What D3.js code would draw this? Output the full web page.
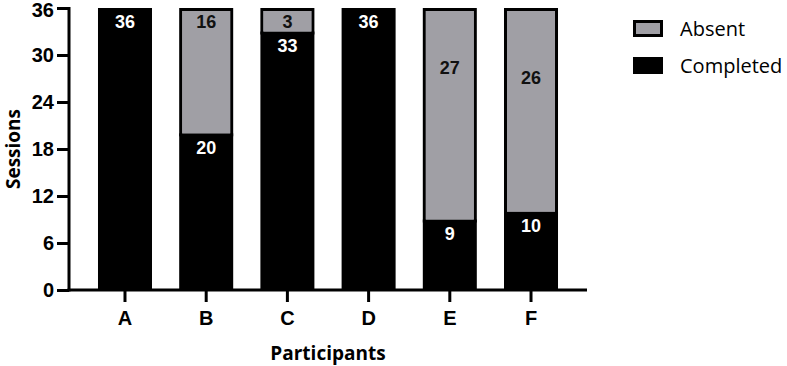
<!DOCTYPE html>
<html><head><meta charset="utf-8">
<script src="https://cdn.jsdelivr.net/npm/d3@7"></script>
<style>body{margin:0;background:#fff}svg{display:block}</style>
</head><body>
<svg id="c" width="787" height="366"></svg>
<script>
const participants = ["A","B","C","D","E","F"];
const completed = [36,20,33,36,9,10];
const absent = [0,16,3,0,27,26];
const yTicks = [0,6,12,18,24,30,36];
const seriesNames = ["Absent","Completed"];

const svg = d3.select("#c");
const x0 = 69, x1 = 587, yTop = 8, yBot = 290;
const x = d3.scaleBand().domain(participants).range([x0, x1]).paddingInner(0.335).paddingOuter(0.357);
const y = d3.scaleLinear().domain([0,36]).range([yBot, yTop]);
const gray = "#a09fa5";
const numFont = "Liberation Sans, Arial, sans-serif";
const textFont = "'Open Sans', sans-serif";

// bars
const g = svg.append("g");
participants.forEach((p,i)=>{
  const bx = x(p), bw = x.bandwidth();
  const c = completed[i], a = absent[i];
  g.append("rect").attr("x",bx).attr("y",y(c)).attr("width",bw).attr("height",y(0)-y(c)).attr("fill","#000");
  if (a>0){
    g.append("rect").attr("x",bx+1.5).attr("y",y(c+a)+1.5).attr("width",bw-3).attr("height",y(c)-y(c+a)).attr("fill",gray)
     .attr("stroke","#000").attr("stroke-width",3);
    g.append("rect").attr("x",bx+3).attr("y",y(c+a)+3).attr("width",bw-6).attr("height",y(c)-y(c+a)-3).attr("fill",gray);
  }
});

// labels
const absentDrop = {E:60, F:70};
participants.forEach((p,i)=>{
  const cx = x(p)+x.bandwidth()/2;
  const c = completed[i], a = absent[i];
  g.append("text").attr("x",cx).attr("y",y(c)+14).attr("dy","0.35em").attr("text-anchor","middle")
   .attr("fill","#fff").attr("font-family",numFont).attr("font-weight","bold").attr("font-size",18).text(c);
  if (a>0){
    const dropY = absentDrop[p] !== undefined ? absentDrop[p] : 14;
    g.append("text").attr("x",cx).attr("y",y(c+a)+dropY).attr("dy","0.35em").attr("text-anchor","middle")
     .attr("fill","#111").attr("font-family",numFont).attr("font-weight","bold").attr("font-size",18).text(a);
  }
});

// y axis
const ya = svg.append("g").attr("transform",`translate(${x0},0)`)
  .call(d3.axisLeft(y).tickValues(yTicks).tickSize(12).tickPadding(3).tickSizeOuter(0));
ya.select(".domain").attr("stroke","#000").attr("stroke-width",3).attr("d",`M0,${yTop-1}V${yBot+1.5}`);
ya.selectAll(".tick line").attr("stroke","#000").attr("stroke-width",3);
ya.selectAll(".tick text").attr("font-family",numFont).attr("font-weight","bold").attr("font-size",20).attr("fill","#000")
  .attr("dy", d => d===36 ? "0.42em" : "0.32em");

// x axis
const xa = svg.append("g").attr("transform",`translate(0,${yBot})`)
  .call(d3.axisBottom(x).tickSize(12).tickPadding(9).tickSizeOuter(0));
xa.select(".domain").attr("stroke","#000").attr("stroke-width",3).attr("d",`M${x0-1.5},0H${x1}`);
xa.selectAll(".tick line").attr("stroke","#000").attr("stroke-width",3);
xa.selectAll(".tick text").attr("font-family",numFont).attr("font-weight","bold").attr("font-size",20).attr("fill","#000");

// titles
svg.append("text").attr("x",(x0+x1)/2).attr("y",353).attr("dy","0.35em").attr("text-anchor","middle")
  .attr("font-family",textFont).attr("font-weight","bold").attr("font-size",19).attr("fill","#000").text("Participants");
svg.append("text").attr("transform","translate(13,149) rotate(-90)").attr("dy","0.35em").attr("text-anchor","middle")
  .attr("font-family",textFont).attr("font-weight","bold").attr("font-size",19).attr("fill","#000").text("Sessions");

// legend
const leg = svg.append("g");
seriesNames.forEach((s,i)=>{
  const ly = 20 + i*37;
  if (s==="Absent"){
    leg.append("rect").attr("x",634.5).attr("y",ly+1.5).attr("width",27).attr("height",14).attr("fill",gray).attr("stroke","#000").attr("stroke-width",3);
  } else {
    leg.append("rect").attr("x",633).attr("y",ly).attr("width",30).attr("height",17).attr("fill","#000");
  }
  leg.append("text").attr("x",680).attr("y",ly+8.5).attr("dy","0.35em")
    .attr("font-family",textFont).attr("font-size",20).attr("fill","#000").text(s);
});
</script>
</body></html>
